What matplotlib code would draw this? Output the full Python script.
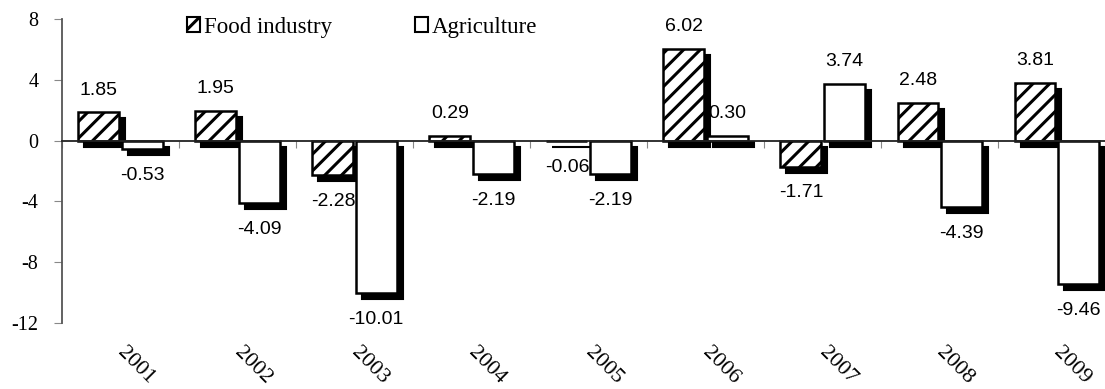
import numpy as np
import matplotlib
matplotlib.use('Agg')
import matplotlib.pyplot as plt
import matplotlib.transforms as mtransforms
from matplotlib.patches import Patch

# 데이터
years = ['2001', '2002', '2003', '2004', '2005', '2006', '2007', '2008', '2009']
food = [1.85, 1.95, -2.28, 0.29, -0.06, 6.02, -1.71, 2.48, 3.81]
agri = [-0.53, -4.09, -10.01, -2.19, -2.19, 0.30, 3.74, -4.39, -9.46]
food_labels = ['1.85', '1.95', '-2.28', '0.29', '-0.06', '6.02', '-1.71', '2.48', '3.81']
agri_labels = ['-0.53', '-4.09', '-10.01', '-2.19', '-2.19', '0.30', '3.74', '-4.39', '-9.46']

plt.rcParams['hatch.linewidth'] = 2.2
serif = 'Liberation Serif'
sans = 'Liberation Sans'

fig = plt.figure(figsize=(11.05, 3.89), dpi=100)
ax = fig.add_axes([0.0561, 0.1697, 0.9531, 0.7815])

x = np.arange(len(years))
w = 0.35
off = 0.185

# 그림자 (오른쪽 아래로 이동)
shadow = mtransforms.offset_copy(ax.transData, fig=fig, x=6, y=-6, units='dots')
ax.bar(x - off, food, w, color='black', edgecolor='black', linewidth=1.5,
       transform=shadow, zorder=1)
ax.bar(x + off, agri, w, color='black', edgecolor='black', linewidth=1.5,
       transform=shadow, zorder=1)

ax.bar(x - off, food, w, color='white', edgecolor='black', linewidth=1.8,
       hatch='//', zorder=2)
ax.bar(x + off, agri, w, color='white', edgecolor='black', linewidth=1.8,
       zorder=2)

# 값 라벨
def put_labels(xs, vals, labels):
    for xi, v, s in zip(xs, vals, labels):
        dy = 16 if v >= 0 else -19
        ax.annotate(s, (xi, v), xytext=(0, dy), textcoords='offset points',
                    ha='center', va='center', fontsize=14, family=sans, zorder=3)

put_labels(x - off, food, food_labels)
put_labels(x + off, agri, agri_labels)

ax.set_xlim(-0.5, 8.5)
ax.set_ylim(-12, 8)
ax.set_yticks([-12, -8, -4, 0, 4, 8])
ax.set_yticklabels(['-12', '-8', '-4', '0', '4', '8'], family=serif, fontsize=14.5)

ax.spines['top'].set_visible(False)
ax.spines['right'].set_visible(False)
ax.spines['left'].set_color('#555555')
ax.spines['left'].set_linewidth(1.3)
ax.spines['bottom'].set_position(('data', 0))
ax.spines['bottom'].set_color('#222222')
ax.spines['bottom'].set_linewidth(1.3)
ax.spines['bottom'].set_zorder(2.5)

ax.set_xticks(np.arange(-0.5, 9.0, 1.0))
ax.set_xticklabels([])
ax.tick_params(axis='x', which='major', direction='out', length=5, color='#888888')
ax.tick_params(axis='y', direction='out', length=6, color='#888888', pad=11)

# 연도 라벨 (기울임)
for xi, yr in zip(x, years):
    ax.text(xi + 0.13, -14.8, yr, rotation=-45, ha='center', va='center',
            family=serif, fontsize=16, clip_on=False)

handles = [Patch(facecolor='white', edgecolor='black', hatch='//', linewidth=1.5),
           Patch(facecolor='white', edgecolor='black', linewidth=1.5)]
fig.legend(handles, ['Food industry', 'Agriculture'], loc='center left',
           bbox_to_anchor=(0.169, 0.93), ncol=2, frameon=False,
           prop={'family': serif, 'size': 16.5}, handlelength=0.6, handleheight=0.6,
           handletextpad=0.15, columnspacing=3.6, borderaxespad=0, borderpad=0)

fig.savefig('out.png', dpi=100)
